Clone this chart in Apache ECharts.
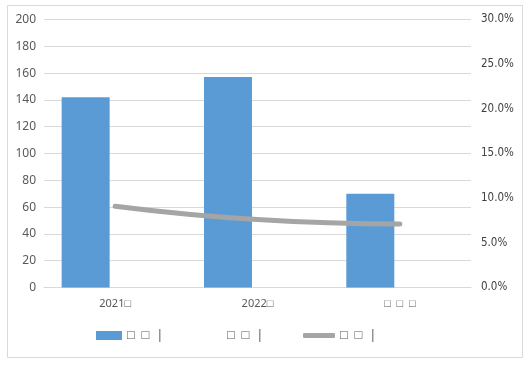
<!DOCTYPE html>
<html><head><meta charset="utf-8">
<script src="https://cdn.jsdelivr.net/npm/echarts@6/dist/echarts.min.js"></script>
<style>html,body{margin:0;padding:0;background:#fff}#c{width:529px;height:368px}</style>
</head><body><div id="c"></div>
<script>
const categories = ['2021□', '2022□', '□  □  □'];
const barName = '□  □  |';
const emptyName = '□  □  | ';
const lineName = '□  □  |  ';
const barValues = [142, 157, 70];
const emptyValues = [null, null, null];
const lineValues = [9.1, 7.6, 7.1];
const leftTicks = [0, 200, 20];
const rightTicks = [0, 30, 5];

const chart = echarts.init(document.getElementById('c'), null, {renderer: 'canvas'});
const font = "'Noto Sans', sans-serif";
const legText = {color: '#595959', fontSize: 13, fontFamily: font};
chart.setOption({
  animation: false,
  backgroundColor: '#fff',
  graphic: [{type: 'rect', shape: {x: 7.5, y: 5.5, width: 515, height: 352}, style: {fill: 'none', stroke: '#D9D9D9', lineWidth: 1}}],
  grid: {left: 44, right: 58, top: 19.5, bottom: 80.5, containLabel: false},
  legend: [
    {left: 91, top: 324, itemWidth: 26, itemHeight: 9, itemGap: 8, textStyle: legText,
     data: [{name: barName, icon: 'rect'}]},
    {left: 217, top: 324, itemWidth: 0, itemHeight: 9, textStyle: legText,
     data: [{name: emptyName, icon: 'none'}]},
    {left: 298, top: 324, itemWidth: 32, itemHeight: 5, textStyle: legText,
     data: [{name: lineName, icon: 'roundRect', itemStyle: {color: '#A5A5A5'}}]}
  ],
  xAxis: {
    type: 'category', data: categories,
    axisLine: {lineStyle: {color: '#D9D9D9'}}, axisTick: {show: false},
    axisLabel: {color: '#595959', fontSize: 11, fontFamily: font, margin: 11,
      padding: [0, 0, 0, 0]}
  },
  yAxis: [
    {type: 'value', min: leftTicks[0], max: leftTicks[1], interval: leftTicks[2],
     axisLine: {show: false}, axisTick: {show: false},
     splitLine: {lineStyle: {color: '#D9D9D9'}},
     axisLabel: {color: '#595959', fontSize: 12, fontFamily: font, margin: 8}},
    {type: 'value', min: rightTicks[0], max: rightTicks[1], interval: rightTicks[2],
     axisLine: {show: false}, axisTick: {show: false}, splitLine: {show: false},
     axisLabel: {color: '#404040', fontSize: 11.5, fontFamily: "'Liberation Sans Narrow', 'DejaVu Sans Condensed', 'Noto Sans', sans-serif", margin: 10,
       formatter: v => v.toFixed(1) + '%'}}
  ],
  series: [
    {name: barName, type: 'bar', data: barValues, barWidth: 48, barGap: '23%',
     itemStyle: {color: '#5B9BD5'}},
    {name: emptyName, type: 'bar', data: emptyValues, barWidth: 48,
     itemStyle: {color: 'transparent'}},
    {name: lineName, type: 'line', yAxisIndex: 1, data: lineValues, smooth: true,
     symbol: 'none', lineStyle: {color: '#A5A5A5', width: 5, cap: 'round'},
     itemStyle: {color: '#A5A5A5'}}
  ]
});
</script></body></html>
